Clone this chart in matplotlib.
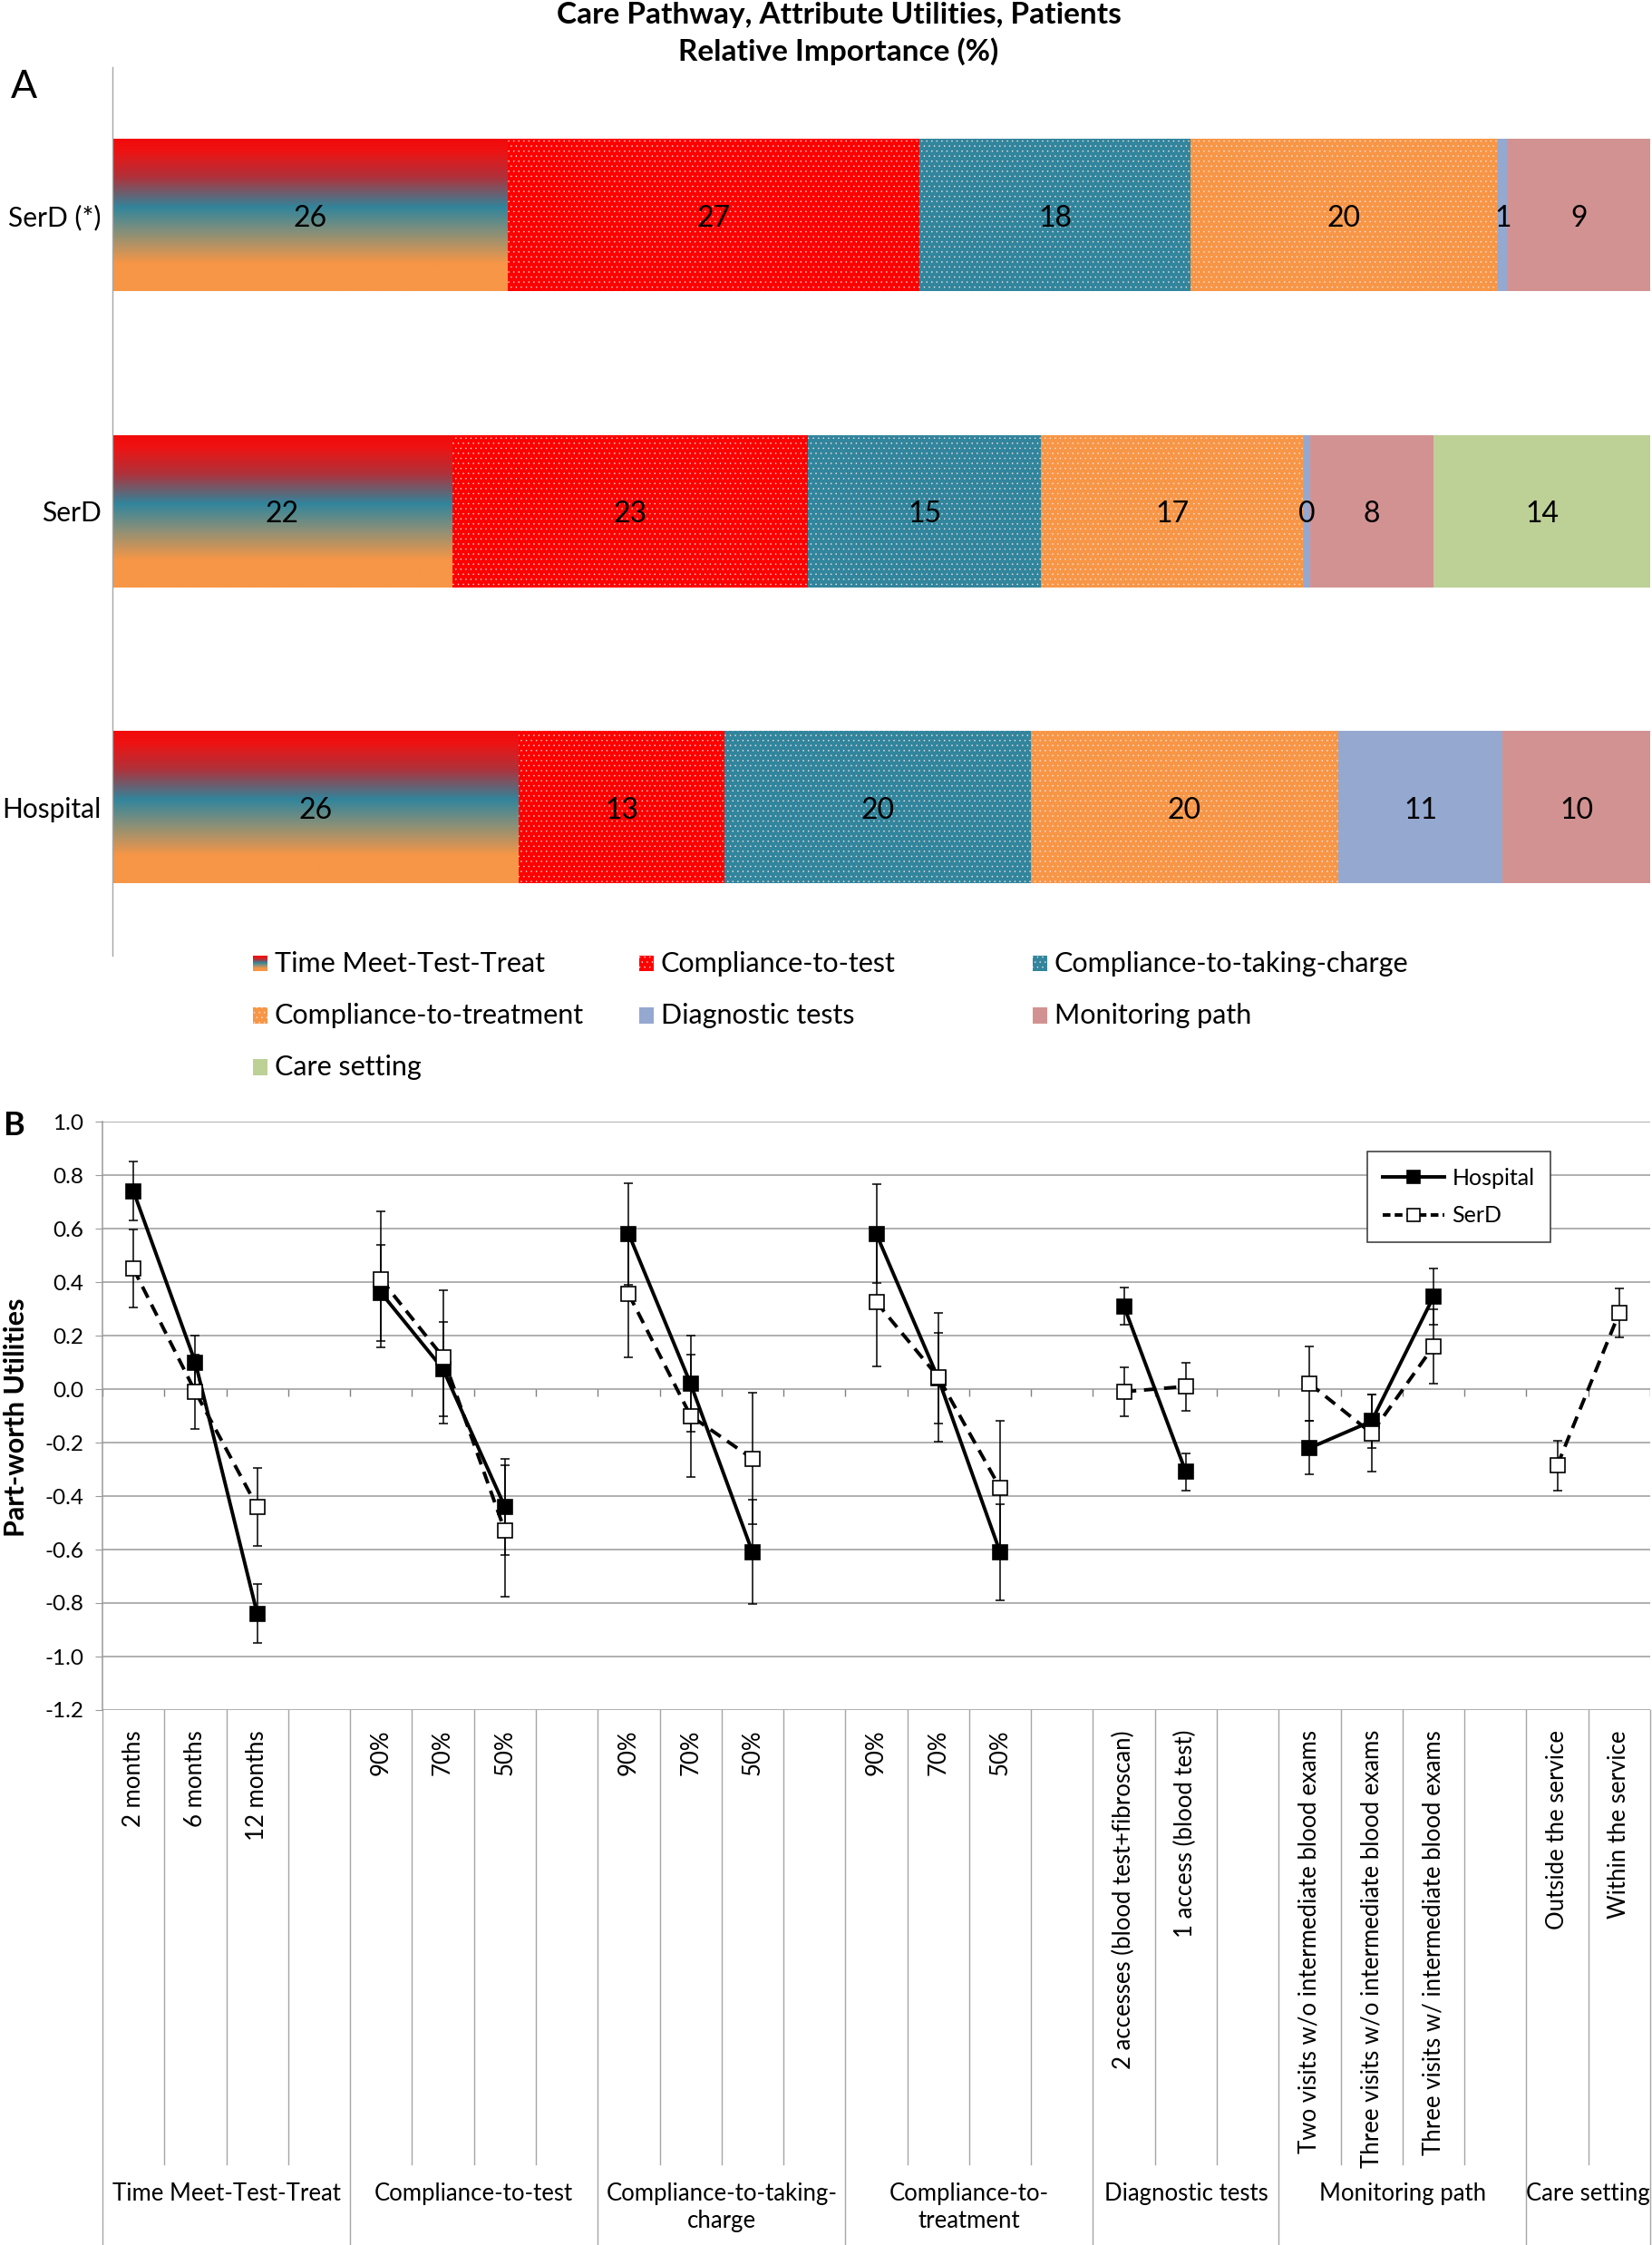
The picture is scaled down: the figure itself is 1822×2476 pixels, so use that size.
import numpy as np
import matplotlib
matplotlib.use("Agg")
import matplotlib.pyplot as plt
import matplotlib.transforms as mtransforms
from matplotlib.colors import LinearSegmentedColormap
from matplotlib.patches import Rectangle
from matplotlib.lines import Line2D

plt.rcParams['font.family'] = ['Lato', 'DejaVu Sans']
plt.rcParams['hatch.color'] = '#FFE8E8'
plt.rcParams['hatch.linewidth'] = 0.3

# ---------------- Panel A data (relative importance, %) ----------------
respondents = ["SerD (*)", "SerD", "Hospital"]
attributes = ["Time Meet-Test-Treat", "Compliance-to-test", "Compliance-to-taking-charge",
              "Compliance-to-treatment", "Diagnostic tests", "Monitoring path", "Care setting"]
time_mtt = [25.7, 22.1, 26.4]
comp_test = [26.8, 23.1, 13.4]
comp_charge = [17.6, 15.2, 19.9]
comp_treat = [20.0, 17.1, 20.0]
diag_tests = [0.6, 0.4, 10.7]
monitoring = [9.3, 8.0, 9.6]
care_setting = [0.0, 14.1, 0.0]

# ---------------- Panel B data (part-worth utilities) ----------------
group_names = ["Time Meet-Test-Treat", "Compliance-to-test", "Compliance-to-taking-\ncharge",
               "Compliance-to-\ntreatment", "Diagnostic tests", "Monitoring path", "Care setting"]
levels = ["2 months", "6 months", "12 months",
          "90%", "70%", "50%",
          "90%", "70%", "50%",
          "90%", "70%", "50%",
          "2 accesses (blood test+fibroscan)", "1 access (blood test)",
          "Two visits w/o intermediate blood exams",
          "Three visits w/o intermediate blood exams",
          "Three visits w/ intermediate blood exams",
          "Outside the service", "Within the service"]
level_group = [0, 0, 0, 1, 1, 1, 2, 2, 2, 3, 3, 3, 4, 4, 5, 5, 5, 6, 6]
hospital = [0.74, 0.10, -0.84, 0.36, 0.075, -0.44, 0.58, 0.02, -0.61, 0.58, 0.04, -0.61,
            0.31, -0.31, -0.22, -0.12, 0.345, np.nan, np.nan]
hospital_err = [0.11, 0.10, 0.11, 0.18, 0.175, 0.18, 0.19, 0.18, 0.195, 0.185, 0.17, 0.18,
                0.07, 0.07, 0.10, 0.10, 0.105, np.nan, np.nan]
serd = [0.45, -0.01, -0.44, 0.41, 0.12, -0.53, 0.355, -0.10, -0.26, 0.325, 0.045, -0.37,
        -0.01, 0.01, 0.02, -0.165, 0.16, -0.285, 0.285]
serd_err = [0.145, 0.14, 0.145, 0.255, 0.25, 0.245, 0.235, 0.23, 0.245, 0.24, 0.24, 0.25,
            0.09, 0.09, 0.14, 0.145, 0.14, 0.093, 0.092]
yticks_b = [-1.2, -1.0, -0.8, -0.6, -0.4, -0.2, 0.0, 0.2, 0.4, 0.6, 0.8, 1.0]

# ---------------- figure ----------------
W, H = 1822, 2476
fig = plt.figure(figsize=(W / 100, H / 100), dpi=100)


def fy(px):
    return 1 - px / H


colors = ["#F79646", "#FF0000", "#31859C", "#F79646", "#95A8D0", "#D39292", "#BDD096"]
hatches = [None, "...", "...", "...", None, None, None]
grad_cmap = LinearSegmentedColormap.from_list(
    "mtt", [(0.0, "#F20A0A"), (0.08, "#EE1313"), (0.25, "#B0313A"), (0.45, "#31859C"),
            (0.62, "#8A9078"), (0.82, "#F79646"), (1.0, "#F79646")])
gradient = np.linspace(0, 1, 256).reshape(-1, 1)

# ---------------- Panel A ----------------
axA = fig.add_axes([124 / W, fy(1053.5), (1820 - 124) / W, 979.5 / H])
series_a = [time_mtt, comp_test, comp_charge, comp_treat, diag_tests, monitoring, care_setting]
ypos = np.arange(len(respondents))
left = np.zeros(len(respondents))
bar_h = 0.514
for k, vals in enumerate(series_a):
    vals = np.asarray(vals, dtype=float)
    cont = axA.barh(ypos, vals, left=left, height=bar_h, color=colors[k],
                    hatch=hatches[k], linewidth=0, zorder=2)
    if k == 0:
        for p in cont.patches:
            x0, y0, w, h = p.get_x(), p.get_y(), p.get_width(), p.get_height()
            im = axA.imshow(gradient, extent=[x0, x0 + w, y0 + h, y0], origin="upper",
                            aspect="auto", cmap=grad_cmap, interpolation="bilinear", zorder=2.5)
            im.set_clip_path(p)
    for yi, (l, v) in enumerate(zip(left, vals)):
        if v > 0:
            axA.text(l + v / 2, yi + 0.01, f"{v:.0f}", ha="center", va="center",
                     fontsize=23, color="black", zorder=5)
    left += vals
axA.set_xlim(0, 100)
axA.set_ylim(2.5, -0.5)
axA.set_yticks(ypos)
axA.set_yticklabels(respondents, fontsize=21.5)
axA.tick_params(axis="y", length=0, pad=9)
axA.xaxis.set_visible(False)
for s in ["top", "right", "bottom"]:
    axA.spines[s].set_visible(False)
axA.spines["left"].set_color("#A6A6A6")
axA.spines["left"].set_linewidth(1.0)

fig.text(925 / W, fy(26), "Care Pathway, Attribute Utilities, Patients", ha="center",
         va="baseline", fontsize=24, fontweight="bold")
fig.text(925 / W, fy(67), "Relative Importance (%)", ha="center", va="baseline",
         fontsize=24, fontweight="bold")
fig.text(12 / W, fy(108), "A", fontsize=31, va="baseline", ha="left")

# legend of panel A (manual, 3 columns)
leg_cols = [279, 705, 1139]
leg_rows = [1063, 1120, 1177]
sw, sh = 16, 17
for k, name in enumerate(attributes):
    r, c = divmod(k, 3)
    x, yc = leg_cols[c], leg_rows[r]
    if k == 0:
        sax = fig.add_axes([x / W, fy(yc + sh / 2), sw / W, sh / H])
        sax.imshow(gradient, aspect="auto", cmap=grad_cmap, interpolation="bilinear")
        sax.axis("off")
    else:
        rect = Rectangle((x / W, fy(yc + sh / 2)), sw / W, sh / H, transform=fig.transFigure,
                         facecolor=colors[k], hatch=hatches[k], linewidth=0)
        fig.add_artist(rect)
    fig.text((x + 24) / W, fy(yc), name, fontsize=22, va="center", ha="left")

# ---------------- Panel B ----------------
axB = fig.add_axes([113 / W, fy(1886), 1707 / W, 649 / H])

# slot positions: each group's levels then one spacer slot (none after last group)
n_groups = len(group_names)
positions = []
group_ranges = []
slot = 0
for g in range(n_groups):
    start = slot
    for gi in level_group:
        if gi == g:
            positions.append(slot)
            slot += 1
    end = slot
    if g < n_groups - 1:
        slot += 1
    group_ranges.append((start, end, slot))
n_slots = slot
positions = np.array(positions, dtype=float)
lg = np.array(level_group)

axB.set_xlim(-0.5, n_slots - 0.5)
axB.set_ylim(-1.2, 1.0)
axB.set_yticks(yticks_b)
axB.set_yticklabels([f"{v:.1f}" for v in yticks_b], fontsize=17.5)
axB.set_xticks([])
axB.yaxis.grid(True, color="#9A9A9A", linewidth=1.1)
axB.set_axisbelow(True)
for s in ["top", "right", "bottom"]:
    axB.spines[s].set_visible(False)
axB.spines["left"].set_color("#9A9A9A")
axB.spines["left"].set_linewidth(1.1)
axB.tick_params(axis="y", length=6, color="#9A9A9A", pad=9)

hosp = np.array(hospital)
hosp_e = np.array(hospital_err)
sd = np.array(serd)
sd_e = np.array(serd_err)

axB.errorbar(positions, hosp, yerr=hosp_e, fmt="none", ecolor="black", elinewidth=1.1,
             capsize=3.8, capthick=1.1, zorder=3)
axB.errorbar(positions, sd, yerr=sd_e, fmt="none", ecolor="black", elinewidth=1.1,
             capsize=3.8, capthick=1.1, zorder=3)
for g in range(n_groups):
    m = lg == g
    axB.plot(positions[m], hosp[m], color="black", lw=2.8, marker="s", ms=11.5,
             mfc="black", mec="black", mew=1.2, zorder=4)
for g in range(n_groups):
    m = lg == g
    axB.plot(positions[m], sd[m], color="black", lw=2.8, ls=(0, (3.5, 2.2)), marker="s",
             ms=11.5, mfc="white", mec="black", mew=1.2, zorder=5)

# small ticks at the zero category axis
bx = np.arange(n_slots + 1) - 0.5
axB.vlines(bx, -0.027, 0, color="#808080", lw=1.0, zorder=2)

handles = [Line2D([], [], color="black", lw=2.8, marker="s", ms=9.5, mfc="black", mew=1.2),
           Line2D([], [], color="black", lw=2.8, ls=(0, (2.2, 1.2)), marker="s", ms=9.5,
                  mfc="white", mec="black", mew=1.2)]
legB = axB.legend(handles, ["Hospital", "SerD"], loc="upper left",
                  bbox_to_anchor=(0.817, 0.949), borderaxespad=0, fontsize=18,
                  handlelength=2.7, handletextpad=0.35, labelspacing=0.75,
                  borderpad=0.7, numpoints=1, fancybox=False, framealpha=1)
legB.get_frame().set_edgecolor("#333333")
legB.get_frame().set_linewidth(1.1)

fig.text(3 / W, fy(1252), "B", fontsize=26, fontweight="bold", va="baseline", ha="left")
fig.text(18 / W, fy(1563), "Part-worth Utilities", fontsize=22, fontweight="bold",
         rotation=90, ha="center", va="center")

# category axis area below the plot
trans = mtransforms.blended_transform_factory(axB.transData, fig.transFigure)
group_bounds = set()
for (start, end, nxt) in group_ranges:
    group_bounds.add(start)
group_bounds.add(n_slots)
for b in range(n_slots + 1):
    x = b - 0.5
    y_end = 0.0 if b in group_bounds else fy(2387)
    axB.plot([x, x], [fy(1886), y_end], transform=trans, clip_on=False,
             color="#A6A6A6", lw=1.0)
for p, lab in zip(positions, levels):
    axB.text(p, fy(1908), lab, rotation=90, ha="center", va="top", transform=trans,
             fontsize=18.5)
for g, (start, end, nxt) in enumerate(group_ranges):
    xc = (start - 0.5 + nxt - 0.5) / 2
    axB.text(xc, fy(2407), group_names[g], ha="center", va="top", transform=trans,
             fontsize=18.5, linespacing=1.25, multialignment="center")

fig.savefig("out.png", dpi=100)
